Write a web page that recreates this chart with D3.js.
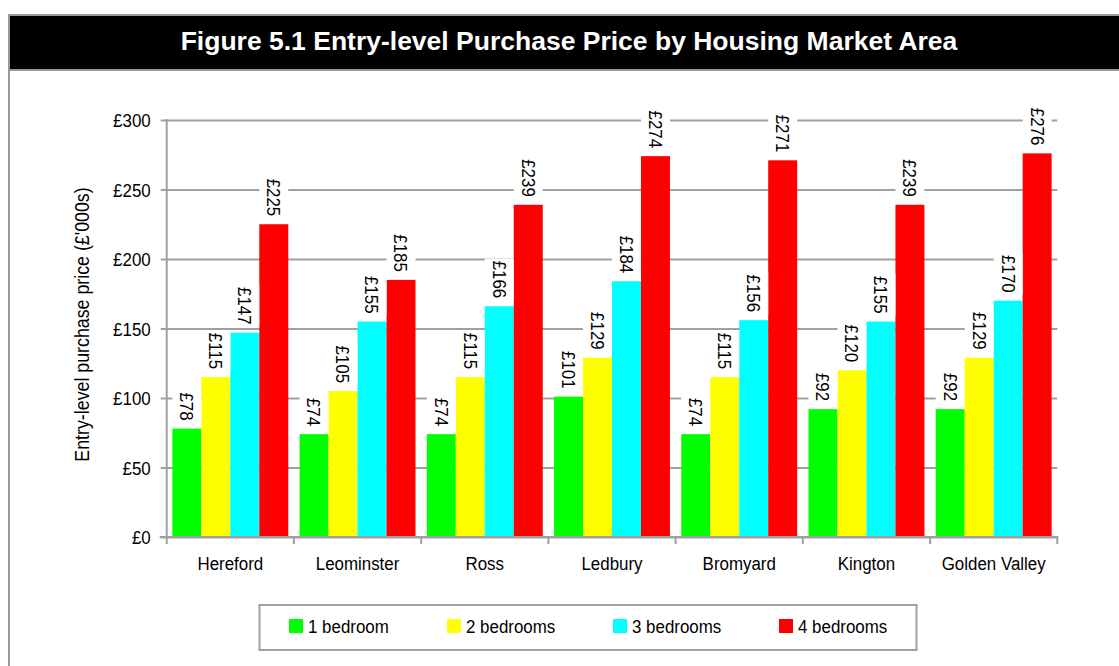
<!DOCTYPE html>
<html>
<head>
<meta charset="utf-8">
<title>Entry-level purchase price</title>
<script src="https://cdn.jsdelivr.net/npm/d3@7/dist/d3.min.js"></script>
<style>
  body { margin: 0; background: #fff; }
  svg { display: block; }
  text { font-family: "Liberation Sans", Arial, sans-serif; }
</style>
</head>
<body>
<svg id="chart" width="1119" height="666"></svg>
<script>
const categories = ["Hereford", "Leominster", "Ross", "Ledbury", "Bromyard", "Kington", "Golden Valley"];
const seriesNames = ["1 bedroom", "2 bedrooms", "3 bedrooms", "4 bedrooms"];
const oneBed   = [78, 74, 74, 101, 74, 92, 92];
const twoBed   = [115, 105, 115, 129, 115, 120, 129];
const threeBed = [147, 155, 166, 184, 156, 155, 170];
const fourBed  = [225, 185, 239, 274, 271, 239, 276];
const yTicks = [0, 50, 100, 150, 200, 250, 300];
const colors = ["#00ff00", "#ffff00", "#00ffff", "#ff0000"];

const series = [oneBed, twoBed, threeBed, fourBed];
const grey = "#a0a0a0";
const squeeze = 0.89;   // the original font is a bit narrower than Liberation Sans
const fs = 19;

const svg = d3.select("#chart");

// outer frame + title bar
svg.append("rect").attr("x", 9).attr("y", 15).attr("width", 1130).attr("height", 700)
   .attr("fill", "#fff").attr("stroke", "#999").attr("stroke-width", 2);
svg.append("rect").attr("x", 10).attr("y", 16).attr("width", 1120).attr("height", 53)
   .attr("fill", "#000");
svg.append("line").attr("x1", 9).attr("x2", 1130).attr("y1", 70).attr("y2", 70)
   .attr("stroke", "#999").attr("stroke-width", 2);
svg.append("text").attr("x", 569).attr("y", 50).attr("text-anchor", "middle")
   .attr("fill", "#fff").attr("font-weight", "bold").attr("font-size", 26.5)
   .text("Figure 5.1 Entry-level Purchase Price by Housing Market Area");

const plotL = 166.7, plotR = 1057.3, plotT = 120, plotB = 537;

const x0 = d3.scaleBand().domain(categories).range([plotL, plotR]).padding(0);
const x1 = d3.scaleBand().domain(d3.range(4)).range([0, x0.bandwidth()])
  .paddingInner(0).paddingOuter(0.195);
const y = d3.scaleLinear().domain([0, 300]).range([plotB, plotT]);

// gridlines + y axis
const yAxis = svg.append("g").attr("transform", `translate(${plotL},0)`)
  .call(d3.axisLeft(y).tickValues(yTicks).tickSize(6).tickFormat(d => "£" + d));
yAxis.select(".domain").remove();
yAxis.selectAll("line").attr("stroke", grey).attr("stroke-width", 2);
yAxis.selectAll(".tick").append("line")
  .attr("x1", 0).attr("x2", plotR - plotL).attr("stroke", grey).attr("stroke-width", 2);
yAxis.selectAll("text").attr("x", null).attr("dy", "0.35em")
  .attr("font-size", fs).attr("font-family", null).attr("fill", "#000")
  .attr("transform", `translate(-16,0) scale(${squeeze},1)`);
svg.append("line").attr("x1", plotL).attr("x2", plotL).attr("y1", plotT - 1).attr("y2", plotB)
  .attr("stroke", grey).attr("stroke-width", 2);

// bars
const groups = svg.append("g").selectAll("g").data(categories).join("g")
  .attr("transform", d => `translate(${x0(d)},0)`);

groups.each(function(cat, ci) {
  const g = d3.select(this);
  series.forEach((vals, si) => {
    const v = vals[ci];
    g.append("rect").attr("x", x1(si)).attr("y", y(v))
      .attr("width", x1.bandwidth()).attr("height", y(0) - y(v)).attr("fill", colors[si]);
  });
});

// x axis
const xAxis = svg.append("g").attr("transform", `translate(0,${plotB})`);
xAxis.append("line").attr("x1", plotL - 7).attr("x2", plotR + 1).attr("stroke", grey).attr("stroke-width", 2);
const bounds = categories.map(c => x0(c)).concat([plotR]);
xAxis.selectAll("line.tk").data(bounds).join("line").attr("class", "tk")
  .attr("x1", d => d).attr("x2", d => d).attr("y1", 0).attr("y2", 7)
  .attr("stroke", grey).attr("stroke-width", 2);
xAxis.selectAll("text").data(categories).join("text")
  .attr("transform", d => `translate(${x0(d) + x0.bandwidth() / 2},33) scale(${squeeze},1)`)
  .attr("text-anchor", "middle").attr("font-size", fs).text(d => d);

// value labels, rotated, with a white box behind
groups.each(function(cat, ci) {
  const g = d3.select(this);
  series.forEach((vals, si) => {
    const v = vals[ci];
    const cx = x1(si) + x1.bandwidth() / 2;
    const ty = y(v) - 8;
    const lbl = g.append("g").attr("transform", `translate(${cx},${ty}) rotate(90)`);
    const t = lbl.append("text").attr("font-size", fs).attr("transform", `scale(${squeeze},1)`)
      .attr("text-anchor", "end").attr("dy", "0.35em").text("£" + v);
    const bb = t.node().getBBox();
    lbl.insert("rect", "text").attr("x", bb.x * squeeze - 2).attr("y", -x1.bandwidth() / 2)
      .attr("width", bb.width * squeeze + 4).attr("height", x1.bandwidth()).attr("fill", "#fff");
  });
});

// y axis title
svg.append("text")
  .attr("transform", `translate(89,${(plotT + plotB) / 2 - 4}) rotate(-90) scale(${squeeze},1)`)
  .attr("text-anchor", "middle").attr("font-size", 20)
  .text("Entry-level purchase price (£'000s)");

// legend
const legend = svg.append("g");
legend.append("rect").attr("x", 259.5).attr("y", 605).attr("width", 657).attr("height", 45)
  .attr("fill", "#fff").attr("stroke", grey).attr("stroke-width", 2);
const legX = [289, 447, 613, 779];
const items = legend.selectAll("g").data(seriesNames).join("g")
  .attr("transform", (d, i) => `translate(${legX[i]},619)`);
items.append("rect").attr("width", 14).attr("height", 14).attr("fill", (d, i) => colors[i]);
items.append("text").attr("transform", `translate(19,7) scale(${squeeze},1)`).attr("dy", "0.35em")
  .attr("font-size", fs).text(d => d);
</script>
</body>
</html>
